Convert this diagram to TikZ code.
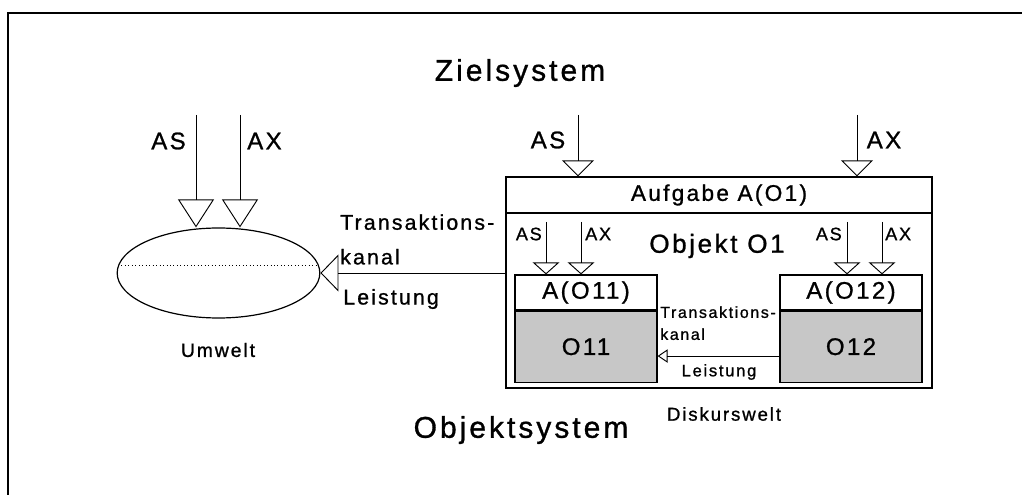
\documentclass[tikz,border=0pt]{standalone}
\usepackage{fontspec}
\setmainfont[LetterSpace=10, FakeBold=1]{Liberation Sans}
\usetikzlibrary{arrows.meta,shapes.geometric,positioning}

\tikzset{
  box/.style={draw, line width=0.9pt, inner sep=0pt, minimum width=106.5pt},
  lab/.style={inner sep=0pt, font=\fontsize{18pt}{21pt}\selectfont},
  smalllab/.style={inner sep=0pt, font=\fontsize{13.5pt}{16pt}\selectfont},
  title/.style={inner sep=0pt, font=\fontsize{22.5pt}{27pt}\selectfont},
  bigin/.style={line width=0.7pt, -{Triangle[open, width=27pt, length=21pt]}},
  topin/.style={line width=0.7pt, -{Triangle[open, width=24pt, length=12pt]}},
  subin/.style={line width=0.7pt, -{Triangle[open, width=20pt, length=9pt]}},
  chan/.style={line width=0.7pt, -{Triangle[open, width=27.75pt, length=13.5pt]}},
  subchan/.style={line width=0.7pt, -{Triangle[open, width=10pt, length=7.5pt]}},
}

\begin{document}
\begin{tikzpicture}[x=0.75pt, y=-0.75pt]
  \useasboundingbox (0,0) rectangle (1022,495);
  \draw[line width=1.5pt] (8,495) -- (8,13) -- (1022,13);

  \node[title] (ziel) at (520,73) {Zielsystem};
  \node[title] (objsys) at (521,430) {Objektsystem};

  % Umwelt
  \node[draw, ellipse, line width=0.9pt, inner sep=0pt,
        minimum width=152pt, minimum height=67.5pt] (um) at (218.5,273) {};
  \draw[dotted, line width=0.6pt] (118,265) -- (318,265);
  \node[inner sep=0pt, font=\fontsize{14.5pt}{17pt}\selectfont] (umw) at (218,350) {Umwelt};

  \coordinate (las) at (196,115);
  \coordinate (lax) at (240,115);
  \draw[bigin] (las) -- (las |- um.north);
  \draw[bigin] (lax) -- (lax |- um.north);
  \node[lab, anchor=east] (las-l) at (186,141) {AS};
  \node[lab, anchor=west] (lax-l) at (247,141) {AX};

  % Objekt O1
  \node[box, minimum width=319.5pt, minimum height=158.25pt] (o1) at (719,282.5) {};
  \node[box, minimum width=319.5pt, minimum height=27pt, anchor=north,
        font=\fontsize{17pt}{20pt}\selectfont] (a1) at (o1.north) {Aufgabe A(O1)};
  \node[inner sep=0pt, font=\fontsize{19.5pt}{23pt}\selectfont] (o1-l) at (717,246) {Objekt O1};

  \coordinate (tas) at (578,115);
  \coordinate (tax) at (857,115);
  \draw[topin] (tas) -- (tas |- o1.north);
  \draw[topin] (tax) -- (tax |- o1.north);
  \node[lab] (tas-l) at (548,140) {AS};
  \node[lab] (tax-l) at (884,140) {AX};

  % Teilobjekte
  \node[box, minimum height=26.25pt, font=\fontsize{18pt}{21pt}\selectfont] (a11) at (586,292.5) {A(O11)};
  \node[box, minimum height=53.25pt, fill=black!22, anchor=north,
        font=\fontsize{18pt}{21pt}\selectfont] (o11) at (a11.south) {O11};
  \node[box, minimum height=26.25pt, font=\fontsize{18pt}{21pt}\selectfont] (a12) at (851,292.5) {A(O12)};
  \node[box, minimum height=53.25pt, fill=black!22, anchor=north,
        font=\fontsize{18pt}{21pt}\selectfont] (o12) at (a12.south) {O12};

  \coordinate (as11) at (546,222);
  \coordinate (ax11) at (581,222);
  \coordinate (as12) at (847,222);
  \coordinate (ax12) at (882,222);
  \foreach \c in {as11,ax11,as12,ax12}
    \draw[subin] (\c) -- (\c |- a11.north);
  \node[smalllab, anchor=east] (as11-l) at (542,234) {AS};
  \node[smalllab, anchor=west] (ax11-l) at (585,234) {AX};
  \node[smalllab, anchor=east] (as12-l) at (842,234) {AS};
  \node[smalllab, anchor=west] (ax12-l) at (885,234) {AX};

  % Transaktionskanaele
  \draw[chan] (o1.west |- um.east) -- (um.east);
  \node[inner sep=0pt, anchor=north west, align=left,
        font=\fontsize{16pt}{26pt}\selectfont] (kan) at (340,214) {Transaktions-\\kanal};
  \node[inner sep=0pt, anchor=west, font=\fontsize{16pt}{19pt}\selectfont] (leist) at (343,299) {Leistung};

  \draw[subchan] ([yshift=-7pt]o12.west) -- ([yshift=-7pt]o11.east);
  \node[inner sep=0pt, anchor=north west, align=left,
        font=\fontsize{12pt}{16.5pt}\selectfont] (kan2) at (660,306) {Transaktions-\\kanal};
  \node[inner sep=0pt, font=\fontsize{12.5pt}{15pt}\selectfont] (leist2) at (719,372) {Leistung};

  \node[inner sep=0pt, font=\fontsize{14pt}{17pt}\selectfont] (disk) at (724,414) {Diskurswelt};
\end{tikzpicture}
\end{document}
